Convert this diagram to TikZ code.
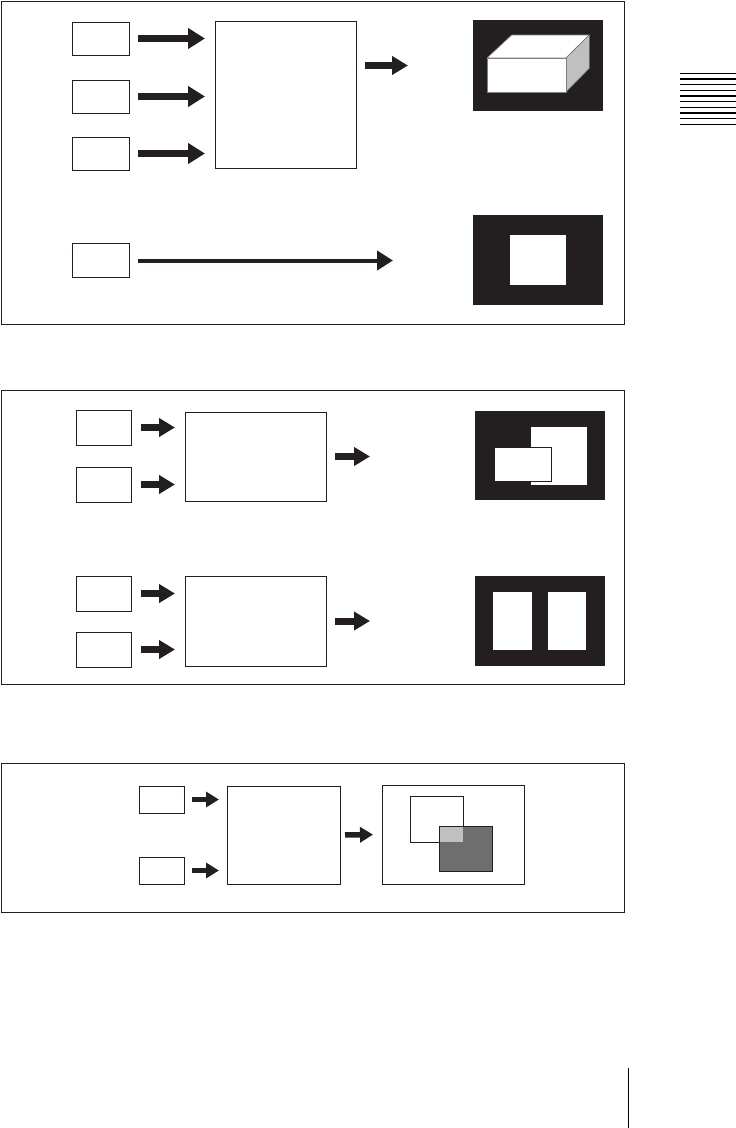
\documentclass[tikz,border=0pt]{standalone}
\usetikzlibrary{arrows.meta}
\definecolor{inkdark}{RGB}{35,31,32}
\definecolor{shadegray}{RGB}{110,110,110}
\definecolor{palegray}{RGB}{192,192,194}

\begin{document}
\begin{tikzpicture}[x=1pt,y=-1pt,
  frame/.style={draw=inkdark,line width=0.9pt},
  srcbox/.style={draw=inkdark,line width=0.9pt,inner sep=0pt,outer sep=0pt},
  screen/.style={fill=inkdark,inner sep=0pt,outer sep=0pt},
  bigarrow/.style={draw=inkdark,line width=7pt,-{Triangle[length=17pt,width=20pt]}},
  midarrow/.style={draw=inkdark,line width=7pt,-{Triangle[length=16pt,width=18pt]}},
  smallarrow/.style={draw=inkdark,line width=5.5pt,-{Triangle[length=13pt,width=15pt]}},
  longarrow/.style={draw=inkdark,line width=4pt,-{Triangle[length=16pt,width=19pt]}}]
\useasboundingbox (0,0) rectangle (736,1128);

% top panel
\draw[frame] (1,1) rectangle (624,324);
\node[srcbox,minimum width=57pt,minimum height=33pt] (in1) at (100.5,38.5) {};
\node[srcbox,minimum width=57pt,minimum height=33pt] (in2) at (100.5,96.5) {};
\node[srcbox,minimum width=57pt,minimum height=33pt] (in3) at (100.5,153.5) {};
\node[srcbox,minimum width=57pt,minimum height=34pt] (in4) at (100.5,260.5) {};
\node[srcbox,minimum width=141pt,minimum height=147pt] (mix1) at (285.5,94.5) {};
\node[screen,minimum width=130pt,minimum height=91pt] (out1) at (538,65.5) {};
\node[screen,minimum width=130pt,minimum height=90pt] (out2) at (538,260) {};
\fill[white] (510,235) rectangle (566,285);
\filldraw[fill=white,draw=gray,line width=0.6pt] (487,58) -- (511.7,35) -- (589.3,35) -- (566,58) -- cycle;
\filldraw[fill=palegray,draw=shadegray,line width=0.6pt] (566,58) -- (589.3,35) -- (589.3,68.3) -- (566,92) -- cycle;
\filldraw[fill=white,draw=gray,line width=0.6pt] (487,58) rectangle (566,92);
\draw[bigarrow,shorten <=9pt,shorten >=10pt] (in1.east) -- (in1.east -| mix1.west);
\draw[bigarrow,shorten <=9pt,shorten >=10pt] (in2.east) -- (in2.east -| mix1.west);
\draw[bigarrow,shorten <=9pt,shorten >=10pt] (in3.east) -- (in3.east -| mix1.west);
\draw[midarrow,shorten <=9pt,shorten >=65pt] (mix1.east |- out1.west) -- (out1.west);
\draw[longarrow,shorten <=9pt,shorten >=80pt] (in4.east) -- (in4.east -| out2.west);

% middle panel
\draw[frame] (1,390) rectangle (624,684);
\node[srcbox,minimum width=55pt,minimum height=35pt] (a1) at (103.5,427.5) {};
\node[srcbox,minimum width=55pt,minimum height=35pt] (a2) at (103.5,484.5) {};
\node[srcbox,minimum width=55pt,minimum height=35pt] (a3) at (103.5,593.5) {};
\node[srcbox,minimum width=55pt,minimum height=35pt] (a4) at (103.5,649.5) {};
\node[srcbox,minimum width=141pt,minimum height=89pt] (mix2) at (255.5,456.5) {};
\node[srcbox,minimum width=141pt,minimum height=90pt] (mix3) at (255.5,621) {};
\node[screen,minimum width=130pt,minimum height=89pt] (out3) at (540,455.5) {};
\node[screen,minimum width=130pt,minimum height=90pt] (out4) at (540,621) {};
\fill[white] (531,427) rectangle (587,485);
\filldraw[fill=white,draw=inkdark,line width=0.9pt] (494,447) rectangle (551,481);
\fill[white] (493,592) rectangle (532,650);
\fill[white] (548,592) rectangle (586,650);
\foreach \s in {a1,a2}
  \draw[midarrow,shorten <=10pt,shorten >=10pt] (\s.east) -- (\s.east -| mix2.west);
\foreach \s in {a3,a4}
  \draw[midarrow,shorten <=10pt,shorten >=10pt] (\s.east) -- (\s.east -| mix3.west);
\draw[midarrow,shorten <=9pt,shorten >=105pt] (mix2.east) -- (mix2.east -| out3.west);
\draw[midarrow,shorten <=9pt,shorten >=105pt] (mix3.east) -- (mix3.east -| out4.west);

% bottom panel
\draw[frame] (1,763) rectangle (624,912);
\node[srcbox,minimum width=45pt,minimum height=27pt] (b1) at (161.5,799.5) {};
\node[srcbox,minimum width=45pt,minimum height=27pt] (b2) at (161.5,870.5) {};
\node[srcbox,minimum width=113pt,minimum height=98pt] (mix4) at (283.5,835) {};
\node[srcbox,minimum width=142pt,minimum height=99pt] (out5) at (453,834.5) {};
\filldraw[fill=white,draw=inkdark,line width=0.9pt] (410,796) rectangle (463,842);
\filldraw[fill=shadegray,draw=inkdark,line width=0.9pt] (439.3,826) rectangle (492.7,871);
\fill[palegray] (439.8,826.5) rectangle (463,842);
\draw[smallarrow,shorten <=8pt,shorten >=8pt] (b1.east) -- (b1.east -| mix4.west);
\draw[smallarrow,shorten <=8pt,shorten >=8pt] (b2.east) -- (b2.east -| mix4.west);
\draw[smallarrow,shorten <=5pt,shorten >=9pt] (mix4.east) -- (out5.west);

% page marks
\foreach \k in {0,...,9}
  \draw[line width=1.3pt] (680,{73.3+5.67*\k}) -- (736,{73.3+5.67*\k});
\draw[line width=1.3pt] (628.3,1068) -- (628.3,1128);
\end{tikzpicture}
\end{document}
